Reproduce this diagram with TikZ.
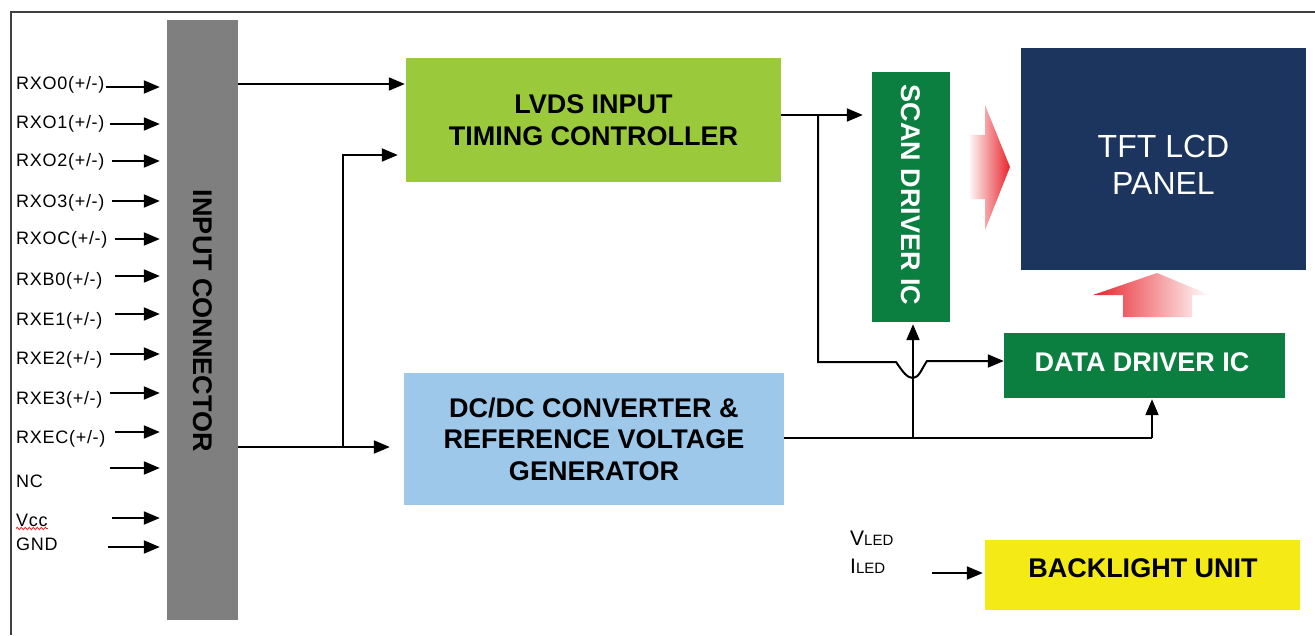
\documentclass[tikz,border=0pt]{standalone}
\usepackage{fontspec}
\setmainfont{Liberation Sans}
\usetikzlibrary{arrows.meta,decorations.pathmorphing}
\definecolor{conngray}{HTML}{7F7F7F}
\definecolor{lvdsgreen}{HTML}{9BC93C}
\definecolor{dcblue}{HTML}{9EC8EA}
\definecolor{icgreen}{HTML}{0B7F40}
\definecolor{panelnavy}{HTML}{1C355E}
\definecolor{blyellow}{HTML}{F4EA16}
\definecolor{arrred}{HTML}{E8242B}
\definecolor{framegray}{HTML}{404040}
\tikzset{
  blk/.style={inner sep=0pt, align=center, font=\fontsize{27}{31.5}\selectfont\bfseries},
  arr/.style={-{Triangle[length=16pt,width=13pt]}, line width=2pt},
  wire/.style={line width=2pt},
  pin/.style={anchor=west, inner sep=0pt, font=\fontsize{18}{20}\selectfont\addfontfeature{LetterSpace=4}},
}
\begin{document}
\begin{tikzpicture}[x=1pt,y=-1pt]
\useasboundingbox (0,0) rectangle (1315,635);
\fill[white] (0,0) rectangle (1315,635);
% frame
\draw[framegray, line width=2.5pt] (11,635) -- (11,12) -- (1315,12);

% input connector
\node[fill=conngray, minimum width=71pt, minimum height=600pt, inner sep=0pt] (conn) at (202.5,320) {};
\node[rotate=-90, inner sep=0pt, font=\fontsize{27}{30}\selectfont\bfseries] (connlbl) at (202.5,321) {INPUT CONNECTOR};

% blocks
\node[blk, fill=lvdsgreen, minimum width=375pt, minimum height=124pt] (lvds) at (593.5,120) {LVDS INPUT\\TIMING CONTROLLER};
\node[blk, fill=dcblue, minimum width=380pt, minimum height=132pt] (dcdc) at (594,439) {DC/DC CONVERTER \&\\REFERENCE VOLTAGE\\GENERATOR};
\node[fill=icgreen, minimum width=78pt, minimum height=250pt, inner sep=0pt] (scan) at (911,197) {};
\node[rotate=-90, inner sep=0pt, text=white, font=\fontsize{27}{30}\selectfont\bfseries] (scanlbl) at (911,195) {SCAN DRIVER IC};
\node[fill=panelnavy, minimum width=285pt, minimum height=222pt, inner sep=0pt] (panel) at (1163.5,159) {};
\node[inner sep=0pt, align=center, text=white, font=\fontsize{32}{37}\selectfont] (panellbl) at (1163.5,165) {TFT LCD\\PANEL};
\node[fill=icgreen, minimum width=281pt, minimum height=65pt, inner sep=0pt] (data) at (1144.5,365.5) {};
\node[inner sep=0pt, text=white, font=\fontsize{27}{31}\selectfont\bfseries] (datalbl) at (1142,362) {DATA DRIVER IC};
\node[fill=blyellow, minimum width=315pt, minimum height=70pt, inner sep=0pt] (bl) at (1142.5,575) {};
\node[inner sep=0pt, font=\fontsize{27}{31}\selectfont\bfseries] (bllbl) at (1143,568) {BACKLIGHT UNIT};

% gradient arrows
\shade[left color=arrred!5, right color=arrred] (970,135) -- (985,135) -- (985,105) -- (1010,167) -- (985,230) -- (985,199) -- (970,199) -- cycle;
\shade[left color=arrred, right color=white] (1123,317) -- (1123,295) -- (1093,295) -- (1157,273) -- (1210,295) -- (1192,295) -- (1192,317) -- cycle;

% input pins
\node[pin] (p1) at (16,85) {RXO0(+/-)};
\node[pin] (p2) at (16,124) {RXO1(+/-)};
\node[pin] (p3) at (16,162) {RXO2(+/-)};
\node[pin] (p4) at (16,203) {RXO3(+/-)};
\node[pin] (p5) at (16,240) {RXOC(+/-)};
\node[pin] (p6) at (16,281) {RXB0(+/-)};
\node[pin] (p7) at (16,321) {RXE1(+/-)};
\node[pin] (p8) at (16,360) {RXE2(+/-)};
\node[pin] (p9) at (16,400) {RXE3(+/-)};
\node[pin] (p10) at (16,439) {RXEC(+/-)};
\node[pin] (p11) at (16,481) {NC};
\node[pin] (p12) at (16,520) {Vcc};
\node[pin] (p13) at (16,544) {GND};
\draw[arrred, line width=0.8pt, decorate, decoration={snake, amplitude=1.2pt, segment length=4pt}] ([yshift=-2pt]p12.south west) -- ([yshift=-2pt]p12.south east);

\tikzset{pinarr/.style={arr, shorten >=7pt}}
\draw[pinarr] (106,87) -- (conn.west |- 0,87);
\draw[pinarr] (110,124) -- (conn.west |- 0,124);
\draw[pinarr] (112,161) -- (conn.west |- 0,161);
\draw[pinarr] (112,201) -- (conn.west |- 0,201);
\draw[pinarr] (115,239) -- (conn.west |- 0,239);
\draw[pinarr] (115,276) -- (conn.west |- 0,276);
\draw[pinarr] (115,314) -- (conn.west |- 0,314);
\draw[pinarr] (110,354) -- (conn.west |- 0,354);
\draw[pinarr] (110,393) -- (conn.west |- 0,393);
\draw[pinarr] (115,432) -- (conn.west |- 0,432);
\draw[pinarr] (110,468) -- (conn.west |- 0,468);
\draw[pinarr] (112,518) -- (conn.west |- 0,518);
\draw[pinarr] (108,547) -- (conn.west |- 0,547);

% connections
\draw[arr, shorten >=1pt] (conn.east |- 0,84) -- (lvds.west |- 0,84);
\draw[arr, shorten >=14pt] (conn.east |- 0,447) -- (dcdc.west |- 0,447);
\draw[arr, shorten >=8pt] (343,447) -- (343,155) -- (lvds.west |- 0,155);
\draw[arr, shorten >=9pt] (lvds.east |- 0,115) -- (scan.west |- 0,115);
\draw[arr] (818,115) -- (818,362) -- (896,362) .. controls (903,372) and (907,378) .. (913,378) .. controls (919,378) and (922,368) .. (927,361) -- (data.west |- 0,361);
\draw[wire] (dcdc.east |- 0,438) -- (1152,438);
\draw[arr, shorten >=1pt] (1152,438) -- (data.south -| 1152,0);
\draw[arr, shorten >=2pt] (913,438) -- (scan.south -| 913,0);

% backlight inputs
\node[anchor=west, inner sep=0pt] (vled) at (850,538) {\fontsize{21}{22}\selectfont V\fontsize{15}{16}\selectfont LED};
\node[anchor=west, inner sep=0pt] (iled) at (850,566) {\fontsize{21}{22}\selectfont I\fontsize{15}{16}\selectfont LED};
\draw[arr, shorten >=2pt] (932,573) -- (bl.west |- 0,573);
\end{tikzpicture}
\end{document}
